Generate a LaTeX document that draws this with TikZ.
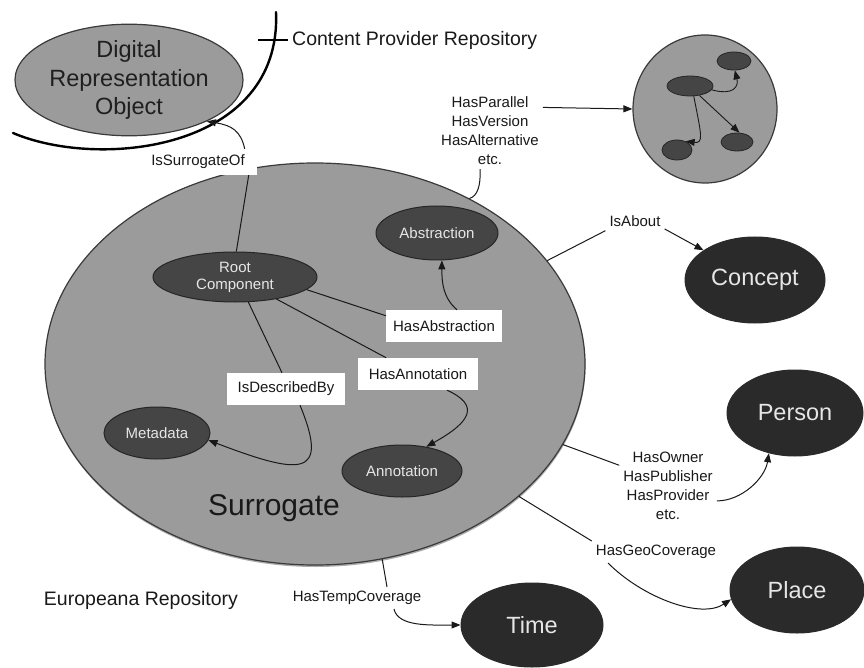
\documentclass[tikz,border=0pt]{standalone}
\usepackage{fontspec}
\setmainfont{Liberation Sans}
\usetikzlibrary{shapes.geometric,arrows.meta,shadows}

\definecolor{surrfill}{HTML}{9B9B9B}
\definecolor{inkdark}{HTML}{454545}
\definecolor{inkdeep}{HTML}{2A2A2A}
\definecolor{paletext}{HTML}{E6E6E6}
\definecolor{rim}{HTML}{3A3A3A}

\newcommand{\fsz}[2]{\fontsize{#1}{#2}\selectfont}

\tikzset{
  paleell/.style={ellipse, inner sep=0pt, fill=surrfill, draw=rim, line width=1.2pt},
  innerell/.style={ellipse, inner sep=0pt, fill=inkdark, draw=black!85, line width=1pt,
    text=paletext, font=\fsz{15}{17}, align=center},
  bigell/.style={ellipse, inner sep=0pt, fill=inkdeep, draw=inkdeep, line width=1pt,
    text=paletext, font=\fsz{23.5}{27}},
  dotell/.style={ellipse, inner sep=0pt, fill=inkdark, draw=black!85, line width=0.8pt},
  rel/.style={font=\fsz{15}{19}, align=center, inner sep=4pt, text=black!90},
  relbox/.style={rel, fill=white, inner xsep=7pt, minimum height=32pt},
  link/.style={line width=1pt, draw=black!90},
  arrowlink/.style={link, -{Triangle[length=9pt,width=7pt]}},
}

\begin{document}
\begin{tikzpicture}[x=1pt,y=-1pt]
\useasboundingbox (0,0) rectangle (864,668);

% ---- Europeana repository: the surrogate and its parts ----
\node[paleell, minimum width=540pt, minimum height=402pt,
      drop shadow={shadow xshift=0.5pt, shadow yshift=-2pt, fill=black!55, opacity=0.6}]
      (surr) at (315,364) {};
\node[font=\fsz{30}{34}, text=black!90] (surrname) at (274,508) {Surrogate};

\node[innerell, minimum width=164pt, minimum height=50pt] (root) at (235,277) {Root\\Component};
\node[innerell, minimum width=122pt, minimum height=54pt] (abs)  at (437,233) {Abstraction};
\node[innerell, minimum width=106pt, minimum height=52pt] (meta) at (157,433) {Metadata};
\node[innerell, minimum width=120pt, minimum height=52pt] (ann)  at (402,471) {Annotation};

\node[relbox, minimum width=105pt] (hasabs) at (444,326) {HasAbstraction};
\node[relbox, minimum width=120pt] (hasann) at (418,374) {HasAnnotation};
\node[relbox, minimum width=118pt] (isdesc) at (286,389) {IsDescribedBy};

\draw[link] (root.-10) -- (hasabs.170);
\draw[arrowlink] ([xshift=13pt]hasabs.north) .. controls +(-14,-12) and +(0,22) .. (abs.-80);

\draw[link] (root.-28) -- (hasann.153);
\draw[arrowlink] ([xshift=29pt]hasann.south) .. controls +(33,15) and +(45,-25) .. (ann.45);

\draw[link] (root.-62) -- ([xshift=-4pt]isdesc.north);
\draw[arrowlink] ([xshift=14pt]isdesc.south) .. controls +(30,73) and +(92,35) .. (meta.-8);

% ---- content provider repository ----
\node[paleell, minimum width=228pt, minimum height=94pt, font=\fsz{23.5}{28.5},
      text=black!88, align=center] (dro) at (129,80) {Digital\\Representation\\Object};
\draw[line width=2.4pt, line cap=round] (13,133) .. controls (100,170) and (282,150) .. (276,12);
\node[anchor=west, inner sep=4pt, font=\fsz{19.5}{22}, text=black!90] (cpr) at (288,40)
      {Content Provider Repository};
\coordinate (tick) at (258,40);
\draw[line width=1.2pt] (tick) -- (cpr.west);

\node[rel, fill=white, inner xsep=8pt, minimum height=26pt, minimum width=117pt] (issurr)
      at (198,162) {IsSurrogateOf};
\draw[link] (root.87) -- ([xshift=-8pt]issurr.south east);
\draw[arrowlink] ([xshift=-12pt]issurr.north east) .. controls +(-4,-18) and +(25,4) .. (dro.-28);

% ---- related surrogates ----
\node[paleell, minimum width=144pt, minimum height=148pt] (cluster) at (705,109) {};
\node[dotell, minimum width=46pt, minimum height=20pt] (c1) at (690,86) {};
\node[dotell, minimum width=34pt, minimum height=18pt] (c2) at (734,61) {};
\node[dotell, minimum width=30pt, minimum height=20pt] (c3) at (677,150) {};
\node[dotell, minimum width=32pt, minimum height=18pt] (c4) at (737,142) {};
\draw[arrowlink, line width=0.9pt] (c1.-10) .. controls +(22,6) and +(4,16) .. (c2.-85);
\draw[arrowlink, line width=0.9pt] (c1.-45) -- (c4.75);
\draw[arrowlink, line width=0.9pt] (c1.-70) .. controls +(8,40) and +(18,2) .. (c3.45);

\node[rel] (hp) at (490,131) {HasParallel\\HasVersion\\HasAlternative\\etc.};
\draw[arrowlink] (hp.24) -- (cluster.west);
\draw[link] ([xshift=-10pt]hp.south) .. controls +(1,16) and +(8,-2) .. (surr.47);

% ---- external entities ----
\node[bigell, minimum width=140pt, minimum height=86pt] (concept) at (755,280) {Concept};
\node[bigell, minimum width=136pt, minimum height=86pt] (person)  at (795,413) {Person};
\node[bigell, minimum width=134pt, minimum height=86pt] (place)   at (797,590) {Place};
\node[bigell, minimum width=142pt, minimum height=84pt] (time)    at (532,625) {Time};

\node[rel] (isabout) at (635,221) {IsAbout};
\draw[link] (surr.24) -- (isabout.south west);
\draw[arrowlink] (isabout.-15) -- (concept.150);

\node[rel] (owner) at (668,486) {HasOwner\\HasPublisher\\HasProvider\\etc.};
\draw[link] (surr.-18) -- (owner.157);
\draw[arrowlink] (owner.-17) .. controls +(25,0) and +(-4,25) .. (person.237);

\node[rel] (hgc) at (656,552) {HasGeoCoverage};
\draw[link] (surr.-33) -- (hgc.north west);
\draw[arrowlink] ([xshift=-48pt]hgc.south) .. controls +(35,35) and +(-30,20) .. (place.188);

\node[rel] (htc) at (357,598) {HasTempCoverage};
\draw[link] (surr.-71) -- ([xshift=30pt]htc.north);
\draw[arrowlink] ([xshift=37pt]htc.south) .. controls +(4,18) and +(-30,0) .. (time.west);

\node[font=\fsz{19.5}{22}, text=black!90] (europeana) at (141,600) {Europeana Repository};

\end{tikzpicture}
\end{document}
